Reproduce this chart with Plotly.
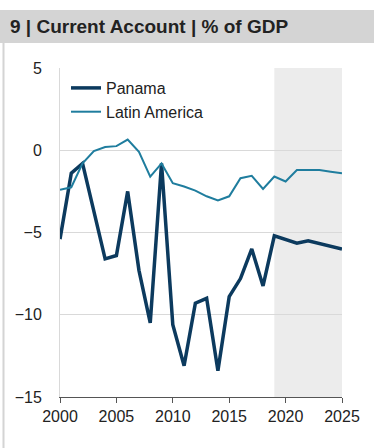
import plotly.graph_objects as go

years = list(range(2000, 2026))
panama = [-5.4, -1.4, -0.8, -3.8, -6.6, -6.4, -2.5, -7.3, -10.5, -0.8,
          -10.6, -13.1, -9.3, -9.0, -13.4, -8.9, -7.8, -6.0, -8.25, -5.2,
          -5.4, -5.65, -5.5, -5.65, -5.8, -6.0]
latam = [-2.4, -2.25, -0.8, -0.05, 0.2, 0.25, 0.65, -0.1, -1.6, -0.8,
         -2.0, -2.2, -2.45, -2.8, -3.05, -2.8, -1.7, -1.55, -2.35, -1.6,
         -1.9, -1.2, -1.2, -1.2, -1.3, -1.4]
forecast_start, forecast_end = 2019, 2025
title = "9 | Current Account | % of GDP"
y_ticks = [5, 0, -5, -10, -15]
x_ticks = [2000, 2005, 2010, 2015, 2020, 2025]

W, H = 377, 448
L, R, T, B = 60, 35, 68, 51
pw, ph = W - L - R, H - T - B

def px(x):
    return (x - L) / pw

def py(y):
    return (H - B - y) / ph

fig = go.Figure()
fig.add_trace(go.Scatter(x=years, y=panama, mode="lines", name="Panama",
                         line=dict(color="#0c3a5e", width=3.5)))
fig.add_trace(go.Scatter(x=years, y=latam, mode="lines", name="Latin America",
                         line=dict(color="#1f7d9e", width=2)))

shapes = [
    dict(type="rect", xref="x", yref="paper", x0=forecast_start, x1=forecast_end,
         y0=0, y1=1, fillcolor="#ececec", line_width=0, layer="below"),
    dict(type="rect", xref="paper", yref="paper", x0=px(0), x1=px(374),
         y0=py(43), y1=py(10), fillcolor="#d4d4d4", line_width=0, layer="below"),
    dict(type="line", xref="paper", yref="paper", x0=px(3.5), x1=px(3.5),
         y0=py(43), y1=py(448), line=dict(color="#d4d4d4", width=2), layer="below"),
]

fig.update_layout(
    width=W, height=H,
    margin=dict(l=L, r=R, t=T, b=B, pad=0),
    paper_bgcolor="white", plot_bgcolor="white",
    font=dict(family="Liberation Sans, Arial, sans-serif", size=16, color="#222222"),
    shapes=shapes,
    annotations=[dict(text="<b>" + title + "</b>", xref="paper", yref="paper",
                      x=px(8), y=py(26.5), xanchor="left", yanchor="middle",
                      showarrow=False, font=dict(size=19, color="#222222"))],
    showlegend=True,
    legend=dict(x=px(66), y=py(71), xanchor="left", yanchor="top",
                bgcolor="rgba(0,0,0,0)", itemwidth=30,
                font=dict(size=16, color="#222222"), tracegroupgap=0),
    xaxis=dict(range=[2000, 2025], tickvals=x_ticks, showgrid=False,
               showline=True, linecolor="#555555", linewidth=1,
               ticks="outside", ticklen=5, tickcolor="#555555",
               zeroline=False, fixedrange=True),
    yaxis=dict(range=[-15, 5], tickvals=y_ticks, showgrid=True,
               gridcolor="#d9d9d9", gridwidth=1, zeroline=False,
               showline=True, linecolor="#d9d9d9", linewidth=1,
               ticks="", ticklabelstandoff=14, fixedrange=True),
)

fig.write_html("out.html")
